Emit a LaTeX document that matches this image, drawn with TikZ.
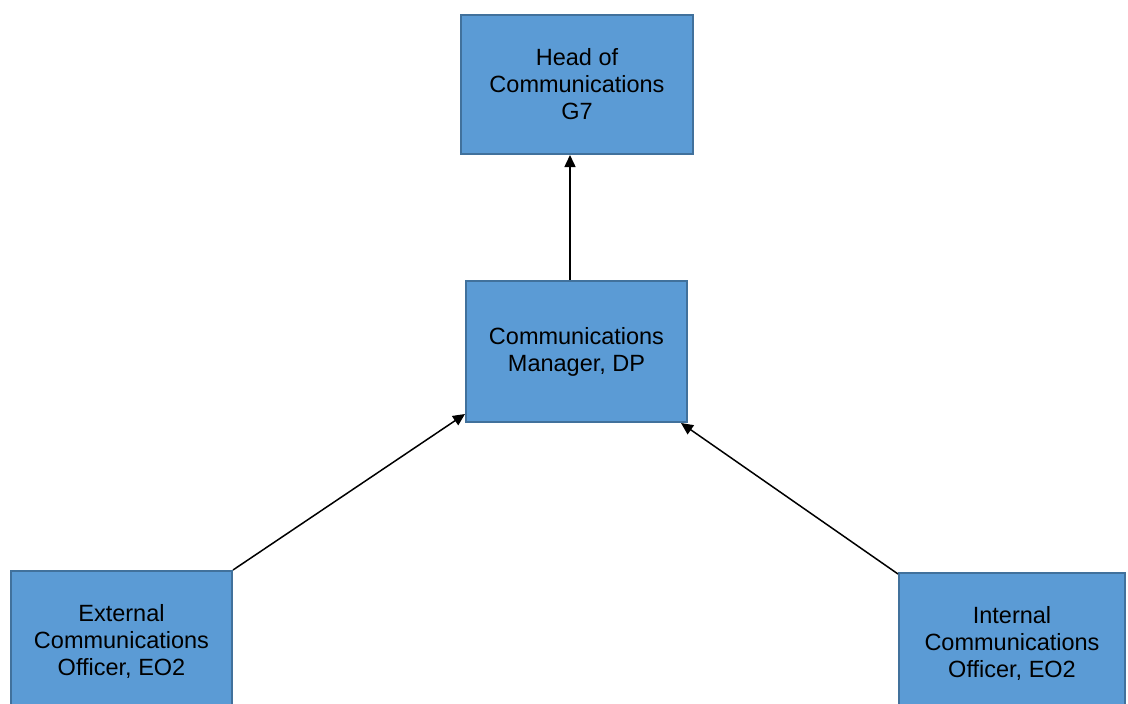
\documentclass[tikz,border=0pt]{standalone}
\usepackage{fontspec}
\setmainfont{Liberation Sans}
\usetikzlibrary{arrows.meta,calc}
\definecolor{boxfill}{HTML}{5B9BD5}
\definecolor{boxline}{HTML}{41719C}
\begin{document}
\begin{tikzpicture}[x=1pt,y=-1pt,
  orgbox/.style={draw=boxline,line width=2pt,fill=boxfill,inner sep=0pt,
    align=center,font=\fontsize{23.5}{27}\selectfont},
  link/.style={line width=1.5pt,-{Triangle[length=12pt,width=11pt]}}]
\useasboundingbox (0,0) rectangle (1128,704);
\node[orgbox,minimum width=232pt,minimum height=139pt] (top) at (577,84.5) {Head of\\Communications\\G7};
\node[orgbox,minimum width=221pt,minimum height=141pt] (mid) at (576.5,351.5) {Communications\\Manager, DP};
\node[orgbox,minimum width=221pt,minimum height=141pt] (ext) at (121.5,641.5) {External\\Communications\\Officer, EO2};
\node[orgbox,minimum width=226pt,minimum height=141pt] (int) at (1012,643.5) {Internal\\Communications\\Officer, EO2};
\draw[link] ($(mid.north)+(-6.5,0)$) -- ($(top.south)+(-7,0)$);
\draw[link] (ext.north east) -- ($(mid.south west)+(0,-9)$);
\draw[link] ($(int.north west)+(0,2)$) -- ($(mid.south east)+(-7,0)$);
\end{tikzpicture}
\end{document}
